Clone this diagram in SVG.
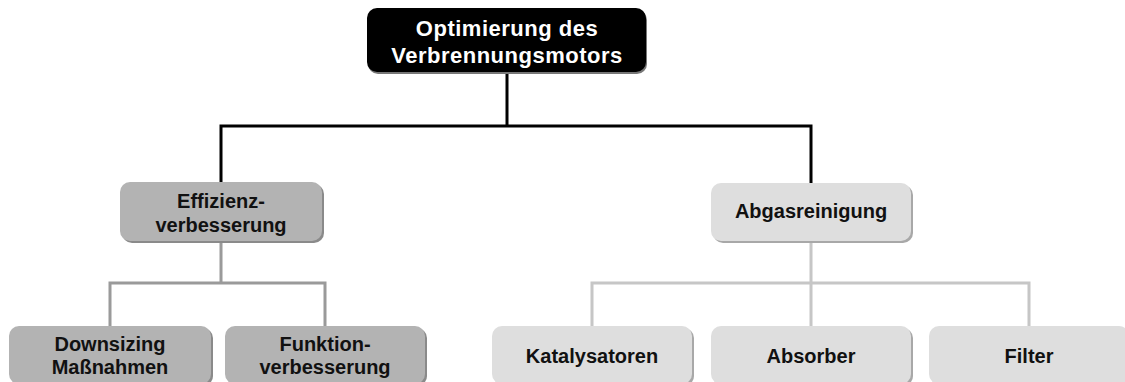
<svg xmlns="http://www.w3.org/2000/svg" width="1125" height="382" viewBox="0 0 1125 382">
<style>
.t{font-family:"Liberation Sans",Arial,sans-serif;font-weight:bold;font-size:20px;text-anchor:middle;fill:#111}
.tw{font-family:"Liberation Sans",Arial,sans-serif;font-weight:bold;font-size:22px;letter-spacing:0.5px;text-anchor:middle;fill:#fff}
.sh{fill:#8a8a8a}
.shl{fill:#a8a8a8}
.mid{fill:#b3b3b3}
.lt{fill:#dedede}
.blk{stroke:#000;stroke-width:3;fill:none}
.g1{stroke:#9a9a9a;stroke-width:3;fill:none}
.g2{stroke:#c6c6c6;stroke-width:3;fill:none}
</style>
<rect width="1125" height="382" fill="#fff"/>
<g id="connectors">
<path class="blk" d="M507 72 V126 M221 183 V126 H811 V183"/>
<path class="g1" d="M221 241 V283 M110 326 V283 H325 V326"/>
<path class="g2" d="M811 241 V283 M592 326 V283 H1029 V326 M811 283 V326"/>
</g>
<g id="n0">
<rect x="368" y="10" width="279" height="64" rx="10" fill="#777"/>
<rect x="367" y="8" width="279" height="64" rx="10" fill="#000"/>
<text class="tw" x="507" y="36">Optimierung des</text>
<text class="tw" x="507" y="63">Verbrennungsmotors</text>
</g>
<g id="n1">
<rect class="sh" x="122" y="184" width="202" height="59" rx="10"/>
<rect class="mid" x="120" y="182" width="202" height="59" rx="10"/>
<text class="t" x="221" y="208">Effizienz-</text>
<text class="t" x="221" y="232">verbesserung</text>
</g>
<g id="n2">
<rect class="shl" x="713" y="185" width="200" height="58" rx="10"/>
<rect class="lt" x="711" y="183" width="200" height="58" rx="10"/>
<text class="t" x="811" y="218">Abgasreinigung</text>
</g>
<g id="n3">
<rect class="sh" x="11" y="328" width="202" height="58" rx="10"/>
<rect class="mid" x="9" y="326" width="202" height="58" rx="10"/>
<text class="t" x="110" y="351">Downsizing</text>
<text class="t" x="110" y="374">Maßnahmen</text>
</g>
<g id="n4">
<rect class="sh" x="227" y="328" width="200" height="58" rx="10"/>
<rect class="mid" x="225" y="326" width="200" height="58" rx="10"/>
<text class="t" x="325" y="351">Funktion-</text>
<text class="t" x="325" y="374">verbesserung</text>
</g>
<g id="n5">
<rect class="shl" x="494" y="328" width="200" height="58" rx="10"/>
<rect class="lt" x="492" y="326" width="200" height="58" rx="10"/>
<text class="t" x="592" y="363">Katalysatoren</text>
</g>
<g id="n6">
<rect class="shl" x="713" y="328" width="200" height="58" rx="10"/>
<rect class="lt" x="711" y="326" width="200" height="58" rx="10"/>
<text class="t" x="811" y="363">Absorber</text>
</g>
<g id="n7">
<rect class="shl" x="931" y="328" width="200" height="58" rx="10"/>
<rect class="lt" x="929" y="326" width="200" height="58" rx="10"/>
<text class="t" x="1029" y="363">Filter</text>
</g>
</svg>
